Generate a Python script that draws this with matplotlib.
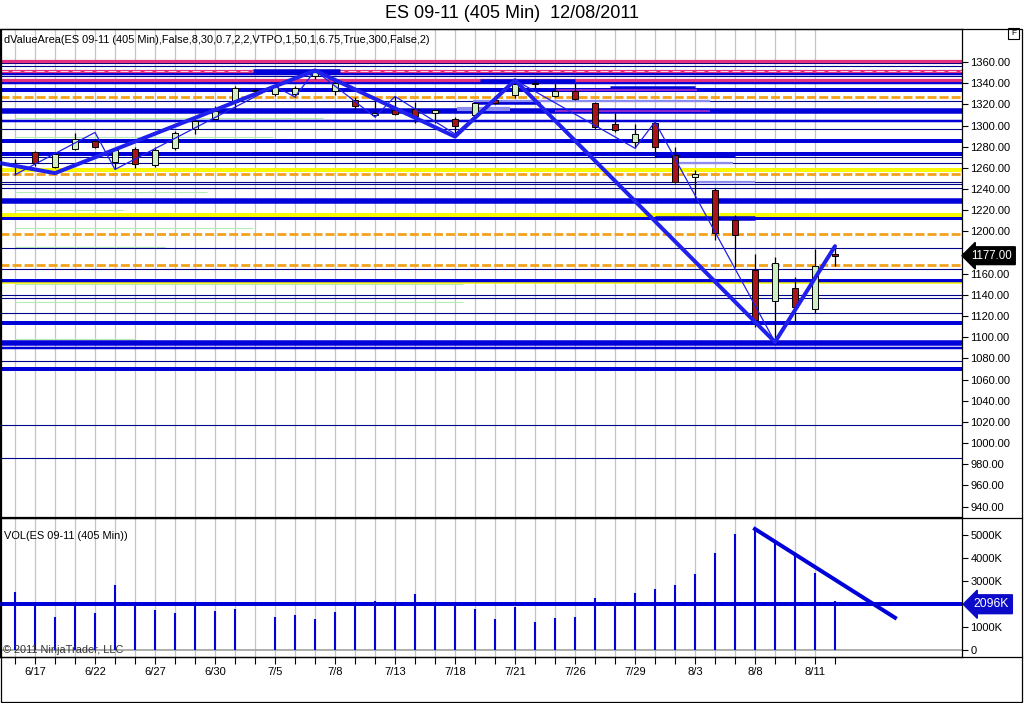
import matplotlib
matplotlib.use("Agg")
import matplotlib.pyplot as plt
from matplotlib.patches import Rectangle
from matplotlib.lines import Line2D

plt.rcParams["font.family"] = ["Liberation Sans", "DejaVu Sans"]

# ---- data -------------------------------------------------------------
opens = [1262, 1275, 1261, 1278, 1285.5, 1266, 1278, 1263, 1279, 1297, 1306, 1322,
         1332.5, 1330, 1329.5, 1347, 1333, 1324, 1310, 1315, 1316, 1312, 1306, 1310,
         1324, 1329, 1339, 1328, 1333, 1321, 1301, 1284, 1302, 1272.5, 1251, 1239.5,
         1211, 1163.5, 1134.5, 1146.5, 1126.5, 1179]
highs = [1268.5, 1275.5, 1274, 1293, 1287, 1279, 1280, 1280, 1295, 1306, 1318, 1337,
         1335, 1337, 1337, 1352, 1341, 1327, 1323, 1328, 1322, 1315, 1308, 1322,
         1326, 1343, 1343, 1340, 1340, 1322, 1312, 1301, 1304, 1280, 1258, 1240.5,
         1215, 1178.5, 1175.5, 1156.5, 1183.5, 1186]
lows = [1253.5, 1262, 1259.5, 1276.5, 1279, 1259, 1260, 1261, 1276.5, 1292, 1305, 1315,
        1331, 1328, 1327, 1344, 1329, 1315, 1308, 1310, 1302, 1302, 1292, 1309,
        1320, 1326, 1335, 1327, 1324, 1297, 1294, 1279, 1270, 1246, 1231.5, 1192,
        1166.5, 1109.5, 1095.5, 1114.5, 1122.5, 1167]
closes = [1263, 1264.5, 1273, 1287, 1280, 1277, 1264, 1277, 1293, 1304, 1314, 1335,
          1333, 1336, 1335, 1351, 1340, 1318, 1312, 1311, 1309, 1315, 1300, 1321,
          1321, 1339, 1340, 1333, 1325, 1299, 1296, 1292, 1280, 1247, 1254, 1198,
          1197, 1116.5, 1170.5, 1128.5, 1167.5, 1177]
volumes_k = [2507, 1950, 1435, 1900, 1623, 2826, 2072, 1739, 1623, 2000, 1696, 1783,
             20, 1435, 1522, 1348, 1652, 2043, 2130, 2000, 2435, 1900, 1900, 1768,
             1348, 1850, 1217, 1391, 1435, 2275, 1900, 2478, 2652, 2826, 3304, 4217,
             5043, 5261, 4710, 4130, 3362, 2130]

date_ticks = [1, 4, 7, 10, 13, 16, 19, 22, 25, 28, 31, 34, 37, 40]
date_labels = ["6/17", "6/22", "6/27", "6/30", "7/5", "7/8", "7/13", "7/18",
               "7/21", "7/26", "7/29", "8/3", "8/8", "8/11"]

# swing lines (bar index, price)
swing_major_x = [-0.75, 2, 15, 22, 25, 38, 41]
swing_major_y = [1264.5, 1255, 1352, 1289.5, 1342.8, 1095.4, 1186]
swing_minor_x = [0, 4, 5, 13, 14, 15, 18, 19, 22, 25, 31, 32, 38, 41]
swing_minor_y = [1253.5, 1293.5, 1258.5, 1337, 1327, 1352, 1308, 1327.5, 1292,
                 1343, 1278.5, 1303.5, 1095.4, 1186]

# value-area levels (price)
pink_levels = [1361.2, 1351.8, 1343.1]
navy_levels = [1358.8, 1356.7, 1347.1, 1323.1, 1296.4, 1270.4, 1264.8, 1246.9, 1244.7,
               1240.8, 1184.0, 1164.1, 1139.4, 1137.5, 1122.5, 1077.5, 1016.7, 985.5]
blue_mid_levels = [1348.9, 1340.6, 1304.4, 1090.2]
blue_thick_levels = [1333.9, 1285.4, 1272.9, 1212.3, 1153.4, 1113.1, 1070.4]
blue_heavy_levels = [1313.7, 1228.4, 1094.8]
yellow_levels = [1258.0, 1215.4]
yellow_thin_levels = [1150.9]
orange_levels = [1326.6, 1254.0, 1197.5, 1168.5]

# short profile segments: (price, start bar, end bar)
green_segments = [(1306.8, 0, 15.4), (1289.4, 0, 12.9), (1237.2, 0, 9.6), (1220.2, 0, 5.4),
                  (1202.9, 0, 11.9), (1185.5, 0, 7.5), (1150.0, 0, 22.4), (1132.9, 0, 22.4),
                  (1115.3, 0, 17.9), (1098.0, 0, 6)]
blue_segments = [(1351.8, 11.9, 16.25), (1342.3, 23.25, 28), (1335.1, 29.75, 34),
                 (1322.5, 22.9, 26.25), (1272.6, 32, 36), (1213.0, 32, 37)]
purple_segments = [(1333.5, 27, 34.1), (1313.7, 27, 34.75)]
lavender_segments = [(1323.1, 22.9, 34.75), (1316.8, 22.1, 24.75), (1314.6, 22.1, 24.75),
                     (1264.3, 33.1, 35.9), (1246.6, 34.1, 37)]

vol_level_k = 1990
vol_trend_x = [37, 44]
vol_trend_y = [5261, 1404]
last_price = 1177

# ---- figure -----------------------------------------------------------
W, H = 1024, 703
fig = plt.figure(figsize=(W / 100, H / 100), dpi=100)
ax = fig.add_axes([0, 1 - 517 / H, 962 / W, (517 - 29) / H])
axv = fig.add_axes([0, 1 - 657 / H, 962 / W, (657 - 518) / H])

NAVY = "#00008b"
BLUE = "#0000d8"
ZIG = "#1f1fee"
PINK = "#e2307f"
YELLOW = "#f8f800"
ORANGE = "#f2a21c"
GRID = "#c4c4c4"

n = len(closes)
for a in (ax, axv):
    for i in range(n - 1):
        a.axvline(i, color=GRID, lw=0.9, zorder=0.5)
    a.set_xlim(-0.75, 47.35)
    for s in a.spines.values():
        s.set_linewidth(0.9)

px = 0.72  # points per pixel

for y, x0, x1 in green_segments:
    ax.hlines(y, x0, x1, color="#b4ecb4", lw=0.8, zorder=1)
for y in navy_levels:
    ax.axhline(y, color=NAVY, lw=1.1 * px, zorder=2)
for y in blue_mid_levels:
    ax.axhline(y, color=BLUE, lw=2.5 * px, zorder=2)
for y in blue_thick_levels:
    ax.axhline(y, color=BLUE, lw=4 * px, zorder=2)
for y in blue_heavy_levels:
    ax.axhline(y, color=BLUE, lw=5.5 * px, zorder=2)
for y in yellow_levels:
    ax.axhline(y, color=YELLOW, lw=4 * px, zorder=2)
for y in yellow_thin_levels:
    ax.axhline(y, color=YELLOW, lw=1.5 * px, zorder=2)
for y in pink_levels:
    ax.axhline(y, color=PINK, lw=3.2 * px, zorder=2)
ax.axhline(pink_levels[1], color="white", lw=0.8 * px, ls=(0, (10, 5)), zorder=2.1)
for y in orange_levels:
    ax.axhline(y, color=ORANGE, lw=2.8 * px, ls=(0, (3.2, 1.1)), zorder=2)
for y, x0, x1 in blue_segments:
    ax.hlines(y, x0, x1, color=BLUE, lw=4.5 * px, zorder=2.2)
for y, x0, x1 in purple_segments:
    ax.hlines(y, x0, x1, color="#b030c8", lw=1.6 * px, zorder=2.2)
for y, x0, x1 in lavender_segments:
    ax.hlines(y, x0, x1, color="#8c8cf0", lw=2.2 * px, zorder=2.2)

# candles
bw = 0.26
for i in range(n):
    o, h, l, c = opens[i], highs[i], lows[i], closes[i]
    ax.vlines(i, l, h, color="black", lw=0.9, zorder=3)
    up = c >= o
    fc = "#cdeec4" if up else "#a8141a"
    ax.add_patch(Rectangle((i - bw / 2, min(o, c)), bw, max(abs(c - o), 0.8),
                           facecolor=fc, edgecolor="black", lw=0.7, zorder=3.1))

ax.plot(swing_minor_x, swing_minor_y, color=ZIG, lw=0.9, zorder=4)
ax.plot(swing_major_x, swing_major_y, color=ZIG, lw=4 * px, zorder=5,
        solid_capstyle="round")

ax.set_ylim(930.1, 1391.2)
ax.set_xticks([])
ax.yaxis.tick_right()
ticks = list(range(940, 1361, 20))
ax.set_yticks(ticks)
ax.set_yticklabels(["" if t == 1180 else f"{t:.2f}" for t in ticks])
ax.tick_params(axis="y", direction="out", length=4, pad=2, labelsize=8, width=0.8)
ax.text(1.01, last_price, f"{last_price:.2f}", transform=ax.get_yaxis_transform(),
        ha="left", va="center", color="white", fontsize=8.3, zorder=10, clip_on=False,
        bbox=dict(boxstyle="larrow,pad=0.25", fc="black", ec="black"))

# volume panel
axv.vlines(range(n), 0, volumes_k, color=BLUE, lw=1.5, zorder=3)
axv.axhline(0, color="#a0a0a0", lw=1.2, zorder=2)
axv.axhline(vol_level_k, color=BLUE, lw=4 * px, zorder=4)
axv.plot(vol_trend_x, vol_trend_y, color=BLUE, lw=4 * px, zorder=4)
axv.set_ylim(-304, 5739)
axv.yaxis.tick_right()
vt = [0, 1000, 3000, 4000, 5000]
axv.set_yticks(vt)
axv.set_yticklabels(["0"] + [f"{v}K" for v in vt[1:]])
axv.tick_params(axis="y", direction="out", length=4, pad=2, labelsize=8, width=0.8)
axv.text(1.012, vol_level_k, "2096K", transform=axv.get_yaxis_transform(),
         ha="left", va="center", color="white", fontsize=8.8, zorder=10, clip_on=False,
         bbox=dict(boxstyle="larrow,pad=0.28", fc="#0a0ac8", ec="#0a0ac8"))
axv.set_xticks(range(n))
xl = [""] * n
for i, lab in zip(date_ticks, date_labels):
    xl[i] = lab
axv.set_xticklabels(xl)
axv.tick_params(axis="x", direction="out", length=5, pad=2, labelsize=8, width=0.8)

# text and frames
fig.text(0.5, 1 - 13 / H, "ES 09-11 (405 Min)  12/08/2011", ha="center", va="center",
         fontsize=13)
fig.text(4 / W, 1 - 40 / H,
         "dValueArea(ES 09-11 (405 Min),False,8,30,0.7,2,2,VTPO,1,50,1,6.75,True,300,False,2)",
         ha="left", va="center", fontsize=7.9)
fig.text(4 / W, 1 - 536 / H, "VOL(ES 09-11 (405 Min))", ha="left", va="center", fontsize=7.9)
fig.text(3 / W, 1 - 650 / H, "\u00a9 2011 NinjaTrader, LLC", ha="left", va="center",
         fontsize=7.9, color="#333333")

fig.add_artist(Rectangle((0.5 / W, 1 - 702 / H), 1021 / W, (702 - 28.5) / H,
                         transform=fig.transFigure, fill=False, lw=0.9, ec="black"))
fig.add_artist(Line2D([0, 1022 / W], [1 - 517.5 / H] * 2, transform=fig.transFigure,
                      lw=0.9, color="black"))
fig.add_artist(Line2D([0, 1022 / W], [1 - 657 / H] * 2, transform=fig.transFigure,
                      lw=0.9, color="black"))
fig.add_artist(Rectangle((1008 / W, 1 - 39 / H), 11 / W, 11 / H, transform=fig.transFigure,
                         fill=False, lw=0.8, ec="black"))
fig.text(1013.5 / W, 1 - 33.5 / H, "F", ha="center", va="center", fontsize=6)

fig.savefig("out.png", dpi=100)
